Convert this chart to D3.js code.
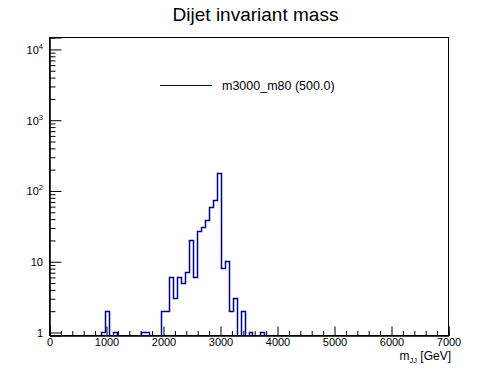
<!DOCTYPE html>
<html>
<head>
<meta charset="utf-8">
<script src="https://cdn.jsdelivr.net/npm/d3@7"></script>
<style>
  body { margin: 0; background: #fff; }
  svg { display: block; font-family: "Liberation Sans", Arial, Helvetica, sans-serif; }
</style>
</head>
<body>
<div id="chart"></div>
<script>
// histogram: 100 bins of 70 GeV between 0 and 7000, only the filled ones listed
let nBins = 100;
let xMin = 0, xMax = 7000;
let filledBins = [13, 14, 16, 23, 24, 28, 29, 30, 31, 32, 33, 34, 35, 36, 37, 38, 39, 40, 41, 42, 43, 44, 45, 46, 48, 50, 53];
let binCounts  = [ 1,  2,  1,  1,  1,  2,  2,  6,  3,  6,  5,  7, 20,  6, 27, 30, 38, 59, 74, 177, 8, 10,  2,  3,  2,  1,  1];

let xMajorTicks = [0, 1000, 2000, 3000, 4000, 5000, 6000, 7000];
let yDecades = [1, 10, 100, 1000, 10000];
let yDecadeLabels = [["1", ""], ["10", ""], ["10", "2"], ["10", "3"], ["10", "4"]];

let titleText = "Dijet invariant mass";
let legendText = "m3000_m80 (500.0)";
let histColor = "#000090";

let fullWidth = 498, fullHeight = 374;
let frame = {left: 49.5, right: 448.5, top: 37.5, bottom: 335.5};

let svg = d3.select("#chart").append("svg")
    .attr("width", fullWidth)
    .attr("height", fullHeight);

let x = d3.scaleLinear()
    .domain([xMin, xMax])
    .range([frame.left, frame.right]);

let y = d3.scaleLog()
    .domain([0.907, 14750])
    .range([frame.bottom, frame.top]);

// full bin contents
let counts = new Array(nBins).fill(0);
filledBins.forEach(function(b, i) { counts[b] = binCounts[i]; });
let binWidth = (xMax - xMin) / nBins;

let steps = [];
counts.forEach(function(c, i) {
    steps.push([xMin + i * binWidth, c]);
    steps.push([xMin + (i + 1) * binWidth, c]);
});

// snap to pixel centres so the outline stays sharp
let snap = function(v) { return Math.round(v - 0.5) + 0.5; };
let yClamp = function(v) { return v > 0 ? snap(y(v)) : frame.bottom + 2; };

svg.append("clipPath").attr("id", "frameClip")
  .append("rect")
    .attr("x", frame.left)
    .attr("y", frame.top)
    .attr("width", frame.right - frame.left)
    .attr("height", frame.bottom - frame.top);

let line = d3.line()
    .x(function(d) { return snap(x(d[0])); })
    .y(function(d) { return yClamp(d[1]); });

svg.append("path")
    .datum(steps)
    .attr("clip-path", "url(#frameClip)")
    .attr("d", line)
    .attr("fill", "none")
    .attr("stroke", histColor)
    .attr("stroke-width", 1.5);

// frame
svg.append("rect")
    .attr("x", frame.left)
    .attr("y", frame.top)
    .attr("width", frame.right - frame.left)
    .attr("height", frame.bottom - frame.top)
    .attr("fill", "none")
    .attr("stroke", "#000")
    .attr("stroke-width", 1);

// x axis, ticks pointing into the frame
let xMinor = d3.range(xMin, xMax + 1, 200).filter(function(v) { return v % 1000 !== 0; });

let xAxisG = svg.append("g")
    .attr("transform", "translate(0," + frame.bottom + ")")
    .call(d3.axisBottom(x).tickValues(xMajorTicks).tickSize(-9).tickPadding(3)
        .tickFormat(d3.format("d")));
svg.append("g")
    .attr("transform", "translate(0," + frame.bottom + ")")
    .call(d3.axisBottom(x).tickValues(xMinor).tickSize(-4.5).tickFormat(""));

xAxisG.selectAll("text")
    .attr("font-size", "11px")
    .attr("font-family", "Liberation Sans, Arial, sans-serif")
    .attr("fill", "#000");

// y axis
let yMinor = [];
yDecades.forEach(function(d) {
    for (let k = 2; k <= 9; k++) {
        if (d * k <= y.domain()[1]) yMinor.push(d * k);
    }
});

svg.append("g")
    .attr("transform", "translate(" + frame.left + ",0)")
    .call(d3.axisLeft(y).tickValues(yDecades).tickSize(-12).tickFormat(""));
svg.append("g")
    .attr("transform", "translate(" + frame.left + ",0)")
    .call(d3.axisLeft(y).tickValues(yMinor).tickSize(-6).tickFormat(""));

svg.selectAll(".domain").attr("stroke", "#000");
svg.selectAll(".tick line").attr("stroke", "#000");

let yLabels = svg.append("g")
    .attr("font-size", "11px")
    .attr("fill", "#000")
    .attr("text-anchor", "end");

yDecades.forEach(function(d, i) {
    let t = yLabels.append("text")
        .attr("x", 43)
        .attr("y", y(d))
        .attr("dy", "0.4em");
    t.append("tspan").text(yDecadeLabels[i][0]);
    if (yDecadeLabels[i][1] !== "") {
        t.append("tspan")
            .attr("font-size", "7.5px")
            .attr("dy", "-5")
            .text(yDecadeLabels[i][1]);
    }
});

// x axis title
let xTitle = svg.append("text")
    .attr("x", 451)
    .attr("y", 360)
    .attr("text-anchor", "end")
    .attr("fill", "#000")
    .attr("font-size", "12px");
xTitle.append("tspan").text("m");
xTitle.append("tspan").attr("font-size", "7.5px").attr("dy", "2.5").text("JJ");
xTitle.append("tspan").attr("dy", "-2.5").text(" [GeV]");

// title
svg.append("text")
    .attr("x", 255.5)
    .attr("y", 21)
    .attr("text-anchor", "middle")
    .attr("fill", "#000")
    .attr("font-size", "19px")
    .text(titleText);

// legend
svg.append("line")
    .attr("x1", 160)
    .attr("x2", 212)
    .attr("y1", 85.5)
    .attr("y2", 85.5)
    .attr("stroke", histColor)
    .attr("stroke-width", 1);

svg.append("text")
    .attr("x", 222)
    .attr("y", 85.5)
    .attr("dy", "0.35em")
    .attr("fill", "#000")
    .attr("font-size", "12.5px")
    .text(legendText);
</script>
</body>
</html>
